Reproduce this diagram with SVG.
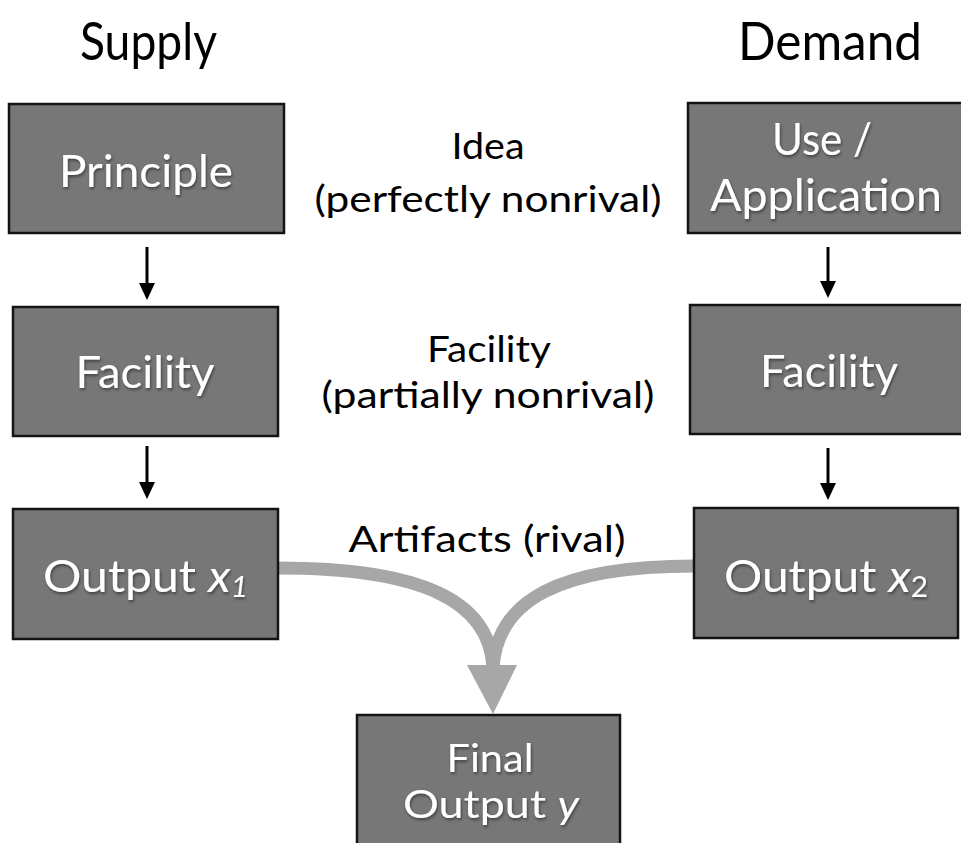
<svg xmlns="http://www.w3.org/2000/svg" width="961" height="843" viewBox="0 0 961 843">
  <style>
    .box { fill: #777777; stroke: #141414; stroke-width: 2.5; }
    .bt { font-family: Lato, "Open Sans", "Liberation Sans", sans-serif; font-size: 45px; fill: #ffffff; text-anchor: middle; filter: url(#txtShadow); }
    .bt.sm { font-size: 38px; }
    .hd { font-family: Lato, "Open Sans", "Liberation Sans", sans-serif; font-size: 52px; fill: #000000; text-anchor: middle; }
    .mid { font-family: Lato, "Open Sans", "Liberation Sans", sans-serif; font-size: 36px; fill: #000000; text-anchor: middle; }
    .it { font-style: italic; }
    .step { stroke: #000000; stroke-width: 3; fill: none; marker-end: url(#head); }
    .flow { stroke: #a6a7a6; stroke-width: 13; fill: none; }
  </style>
  <defs>
    <marker id="head" markerUnits="userSpaceOnUse" markerWidth="18" markerHeight="18" viewBox="0 -9 18 18" refX="0" refY="0" orient="auto">
      <path d="M0,-8 L17,0 L0,8 Z" fill="#000000"/>
    </marker>
    <filter id="txtShadow" x="-10%" y="-20%" width="120%" height="150%">
      <feDropShadow dx="1" dy="2" stdDeviation="1.5" flood-color="#000000" flood-opacity="0.45"/>
    </filter>
  </defs>

  <rect width="961" height="843" fill="#ffffff"/>

  <!-- column headings -->
  <text class="hd" x="148.5" y="60" textLength="137" lengthAdjust="spacingAndGlyphs">Supply</text>
  <text class="hd" x="830" y="60" textLength="184" lengthAdjust="spacingAndGlyphs">Demand</text>

  <!-- level descriptions -->
  <g id="level-idea">
    <text class="mid" x="488" y="159" textLength="73" lengthAdjust="spacingAndGlyphs">Idea</text>
    <text class="mid" x="488" y="212" textLength="347" lengthAdjust="spacingAndGlyphs">(perfectly nonrival)</text>
  </g>
  <g id="level-facility">
    <text class="mid" x="489" y="362" textLength="124" lengthAdjust="spacingAndGlyphs">Facility</text>
    <text class="mid" x="488" y="408" textLength="333" lengthAdjust="spacingAndGlyphs">(partially nonrival)</text>
  </g>
  <g id="level-artifacts">
    <text class="mid" x="487" y="552" textLength="277" lengthAdjust="spacingAndGlyphs">Artifacts (rival)</text>
  </g>

  <!-- connectors -->
  <g id="connectors">
    <line class="step" x1="147" y1="247" x2="147" y2="283"/>
    <line class="step" x1="147" y1="446" x2="147" y2="482"/>
    <line class="step" x1="828" y1="247" x2="828" y2="281"/>
    <line class="step" x1="828" y1="448" x2="828" y2="483"/>
    <path class="flow" d="M278,568 C420,568 490,600 493,668"/>
    <path class="flow" d="M694,566 C560,566 497,600 493,668"/>
    <polygon points="467,665 517,665 493,714" fill="#a6a7a6"/>
  </g>

  <!-- supply column -->
  <g id="principle">
    <rect class="box" x="9" y="104" width="275" height="129"/>
    <text class="bt" x="146" y="187" textLength="174" lengthAdjust="spacingAndGlyphs">Principle</text>
  </g>
  <g id="facility-supply">
    <rect class="box" x="13" y="307" width="265" height="129"/>
    <text class="bt" x="145" y="388" textLength="139" lengthAdjust="spacingAndGlyphs">Facility</text>
  </g>
  <g id="output-x1">
    <rect class="box" x="13" y="509" width="265" height="130"/>
    <text class="bt" x="43" y="592" style="text-anchor:start" textLength="205" lengthAdjust="spacingAndGlyphs">Output <tspan class="it">x</tspan><tspan class="it" font-size="28" dy="5">1</tspan></text>
  </g>

  <!-- demand column -->
  <g id="use-application">
    <rect class="box" x="688" y="103" width="285" height="130"/>
    <text class="bt" x="822" y="155" textLength="100" lengthAdjust="spacingAndGlyphs">Use /</text>
    <text class="bt" x="826" y="211" textLength="232" lengthAdjust="spacingAndGlyphs">Application</text>
  </g>
  <g id="facility-demand">
    <rect class="box" x="690" y="305" width="285" height="129"/>
    <text class="bt" x="829" y="387" textLength="138" lengthAdjust="spacingAndGlyphs">Facility</text>
  </g>
  <g id="output-x2">
    <rect class="box" x="694" y="508" width="264" height="130"/>
    <text class="bt" x="724" y="592" style="text-anchor:start" textLength="204" lengthAdjust="spacingAndGlyphs">Output <tspan class="it">x</tspan><tspan font-size="28" dy="5">2</tspan></text>
  </g>

  <!-- combined result -->
  <g id="final-output">
    <rect class="box" x="357" y="715" width="263" height="150"/>
    <text class="bt sm" x="490" y="772" textLength="87" lengthAdjust="spacingAndGlyphs">Final</text>
    <text class="bt sm" x="491" y="818" textLength="176" lengthAdjust="spacingAndGlyphs">Output <tspan class="it">y</tspan></text>
  </g>
</svg>
